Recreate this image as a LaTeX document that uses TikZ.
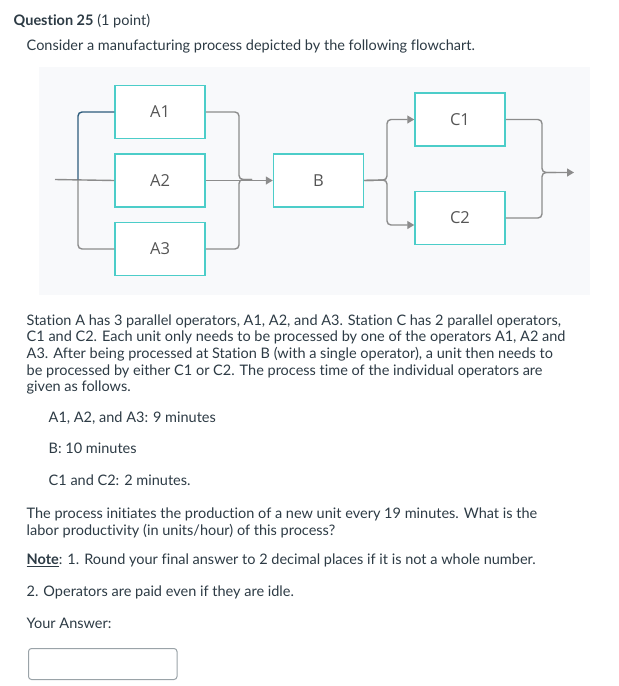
\documentclass[tikz,border=0pt]{standalone}
\usepackage{fontspec}
\setmainfont{Lato}[Ligatures=NoCommon]
\newfontfamily\boxfont{Open Sans}
\usetikzlibrary{arrows.meta, positioning}
\definecolor{boxline}{HTML}{4CCDC9}
\definecolor{wiregray}{HTML}{8C8C8C}
\definecolor{wireblue}{HTML}{2E5C7C}
\definecolor{chartbg}{HTML}{F8F9FB}
\definecolor{bodytext}{HTML}{2D3B45}
\definecolor{boxtext}{HTML}{555555}
\definecolor{fieldline}{HTML}{9AA3A8}

\begin{document}
\begin{tikzpicture}[
            x = 1pt, y = -1pt, % pixel grid of the page
            > = {Triangle[length=7pt,width=8pt]}, % arrow head style
            rounded corners = 4pt,
            line width = 1.4pt
        ]

        \tikzstyle{station}=[
            draw = boxline,
            sharp corners,
            line width = 1.5pt,
            fill = white,
            minimum width = 90pt,
            minimum height = 53pt,
            inner sep = 0pt,
            font = \boxfont\fontsize{16.5}{19}\selectfont,
            text = boxtext
        ]
        \tikzstyle{wire}=[draw = wiregray]
        \tikzstyle{txt}=[anchor = base west, inner sep = 0pt, text = bodytext,
            font = \fontsize{14.5}{17}\selectfont]

        \useasboundingbox[fill = white] (0,0) rectangle (619,686);
        \fill[chartbg, sharp corners] (39,67) rectangle (590,295);

        % flowchart
        \node[station] (a1) at (160,112) {A1};
        \node[station] (a2) [below=14pt of a1] {A2};
        \node[station] (a3) [below=14pt of a2] {A3};
        \node[station] (b) [right=67pt of a2] {B};
        \node[station] (c1) at (460,119.5) {C1};
        \node[station] (c2) [below=44pt of c1] {C2};

        \coordinate (in) at (55,179.5);
        \coordinate (ja) at (78,179.5);
        \coordinate (ma) at (239,179.5);
        \coordinate (mx) at (252,179.5);
        \coordinate (mb) at (387,180);
        \coordinate (mc) at (542,172.5);
        \coordinate (jc) at (556,172.5);
        \coordinate (out) at (574,172.5);

        \path[wire] (in) edge (a2.west);
        \draw[wireblue] (a1.west) -| (ja);
        \draw[wire] (ja) |- (a3.west);

        \draw[wire] (a1.east) -| (ma) -- (mx);
        \draw[wire] (a3.east) -| (ma) -- (mx);
        \draw[wire, ->] (a2.east) -- (b.west);

        \draw[wire, ->] (b.east) -- (mb) |- (c1.west);
        \draw[wire, ->] (b.east) -- (mb) |- ([yshift=-7pt]c2.west);

        \draw[wire] (c2.east) -| (mc) -- (jc);
        \draw[wire, ->] (c1.east) -| (mc) -- (out);

        % question text
        \node[txt] (title) at (13,25) {\textbf{Question 25} (1 point)};
        \node[txt] (intro) at (26,50) {Consider a manufacturing process depicted by the following flowchart.};

        \node[txt] (p1) at (26,325) {Station A has 3 parallel operators, A1, A2, and A3. Station C has 2 parallel operators,};
        \node[txt] (p2) at (26,341.7) {C1 and C2. Each unit only needs to be processed by one of the operators A1, A2 and};
        \node[txt] (p3) at (26,358.3) {A3. After being processed at Station B (with a single operator), a unit then needs to};
        \node[txt] (p4) at (26,375) {be processed by either C1 or C2. The process time of the individual operators are};
        \node[txt] (p5) at (26,391.7) {given as follows.};

        \node[txt] (ta) at (48,422.7) {A1, A2, and A3: 9 minutes};
        \node[txt] (tb) at (48,453.3) {B: 10 minutes};
        \node[txt] (tc) at (48,485) {C1 and C2: 2 minutes.};

        \node[txt] (q1) at (26,518.3) {The process initiates the production of a new unit every 19 minutes. What is the};
        \node[txt] (q2) at (26,535) {labor productivity (in units/hour) of this process?};
        \node[txt] (n1) at (26,564.3) {\underline{\textbf{Note}}: 1. Round your final answer to 2 decimal places if it is not a whole number.};
        \node[txt] (n2) at (26,596.7) {2. Operators are paid even if they are idle.};
        \node[txt] (ans) at (26,628.3) {Your Answer:};

        \draw[fieldline, line width = 1pt, rounded corners = 3pt, fill = white]
            (28.5,648.5) rectangle (177,679.5);
    \end{tikzpicture}
\end{document}
